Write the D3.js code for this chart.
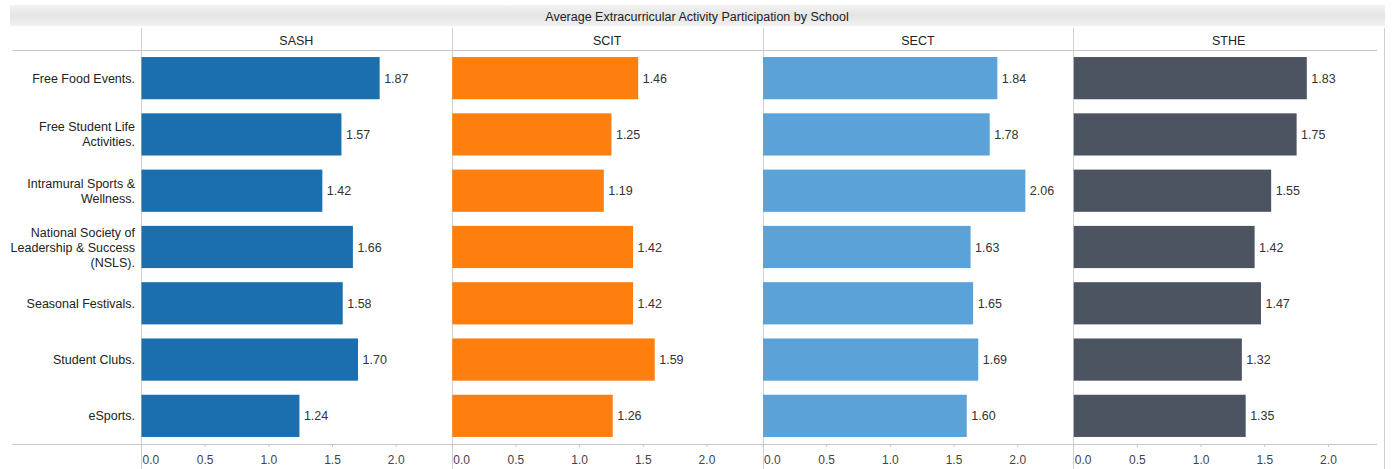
<!DOCTYPE html>
<html><head><meta charset="utf-8">
<script src="https://cdn.jsdelivr.net/npm/d3@7"></script>
<style>
html,body{margin:0;padding:0;background:#fff;}
svg text{font-family:"Liberation Sans",Arial,sans-serif;}
</style></head>
<body><svg id="chart" width="1395" height="469"></svg>
<script>
const categories = ["Free Food Events.","Free Student Life\nActivities.","Intramural Sports &\nWellness.","National Society of\nLeadership & Success\n(NSLS).","Seasonal Festivals.","Student Clubs.","eSports."];
const schools = ["SASH","SCIT","SECT","STHE"];
const sashValues = [1.87,1.57,1.42,1.66,1.58,1.70,1.24];
const scitValues = [1.46,1.25,1.19,1.42,1.42,1.59,1.26];
const sectValues = [1.84,1.78,2.06,1.63,1.65,1.69,1.60];
const stheValues = [1.83,1.75,1.55,1.42,1.47,1.32,1.35];
const tickValues = [0,0.5,1.0,1.5,2.0];
const colors = ["#1c6fae","#ff7f0e","#5aa2d7","#4d5461"];
const title = "Average Extracurricular Activity Participation by School";

const series = [sashValues, scitValues, sectValues, stheValues];
const svg = d3.select("#chart");
const W = 1395, H = 469;
const plotLeft = 141, plotRight = 1384, headerY = 50, axisY = 444;
const FS = 12.5;

// title bar
const defs = svg.append("defs");
const grad = defs.append("linearGradient").attr("id","tg").attr("x1",0).attr("y1",0).attr("x2",0).attr("y2",1);
grad.append("stop").attr("offset","0%").attr("stop-color","#f3f3f3");
grad.append("stop").attr("offset","50%").attr("stop-color","#e4e4e4");
grad.append("stop").attr("offset","100%").attr("stop-color","#f2f2f2");
svg.append("rect").attr("x",10).attr("y",5).attr("width",1375).attr("height",21).attr("fill","url(#tg)");
svg.append("text").attr("x",697).attr("y",20.5).attr("text-anchor","middle")
  .attr("font-size",FS).attr("fill","#222").text(title);

const panel = d3.scaleBand().domain(schools).range([plotLeft, plotRight]);
const x = d3.scaleLinear().domain([0, 2.44]).range([0, panel.bandwidth()]);
const y = d3.scaleBand().domain(categories).range([headerY, axisY]).paddingInner(0.25).paddingOuter(0.125);

// header & axis lines
svg.append("line").attr("x1",12).attr("x2",1377).attr("y1",headerY+0.5).attr("y2",headerY+0.5).attr("stroke","#c8c8c8");
svg.append("line").attr("x1",12).attr("x2",1377).attr("y1",axisY+0.5).attr("y2",axisY+0.5).attr("stroke","#c8c8c8");

// vertical separators
const seps = schools.map(s => panel(s)).concat([plotRight]);
svg.selectAll(".sep").data(seps).join("line")
  .attr("x1",d=>Math.round(d)+0.5).attr("x2",d=>Math.round(d)+0.5)
  .attr("y1",28).attr("y2",H).attr("stroke","#d0d0d0");

// row labels
categories.forEach(c => {
  const lines = c.split("\n");
  const cy = y(c) + y.bandwidth()/2;
  const lh = 15;
  const t = svg.append("text").attr("text-anchor","end").attr("font-size",FS).attr("fill","#222");
  lines.forEach((ln,i) => {
    t.append("tspan").attr("x",135).attr("y", cy + (i - (lines.length-1)/2)*lh + 4.5).text(ln);
  });
});

schools.forEach((s, si) => {
  const g = svg.append("g").attr("transform",`translate(${panel(s)},0)`);
  g.append("text").attr("x",panel.bandwidth()/2).attr("y",44.5).attr("text-anchor","middle")
    .attr("font-size",FS).attr("fill","#222").text(s);
  const vals = series[si];
  g.selectAll("rect.bar").data(categories).join("rect").attr("class","bar")
    .attr("x",x(0)+0.5).attr("y",c=>y(c))
    .attr("width",(c,i)=>x(vals[i])-x(0)).attr("height",y.bandwidth())
    .attr("fill",colors[si]);
  g.selectAll("text.val").data(categories).join("text").attr("class","val")
    .attr("x",(c,i)=>x(vals[i])+5).attr("y",c=>y(c)+y.bandwidth()/2+4.5)
    .attr("font-size",FS).attr("fill","#333")
    .text((c,i)=>d3.format(".2f")(vals[i]));
  // axis
  const ax = g.append("g").attr("transform",`translate(0,${axisY})`)
    .call(d3.axisBottom(x).tickValues(tickValues).tickFormat(d3.format(".1f")).tickSize(3).tickSizeOuter(0));
  ax.select(".domain").remove();
  ax.selectAll(".tick line").attr("stroke","#c8c8c8");
  ax.selectAll(".tick text").attr("font-size",12).attr("fill","#444").attr("dy",0).attr("y",20)
    .attr("font-family","'Liberation Sans',Arial,sans-serif");
  ax.selectAll(".tick text").filter(d=>d===0).attr("text-anchor","start").attr("x",1);
});
</script></body></html>
